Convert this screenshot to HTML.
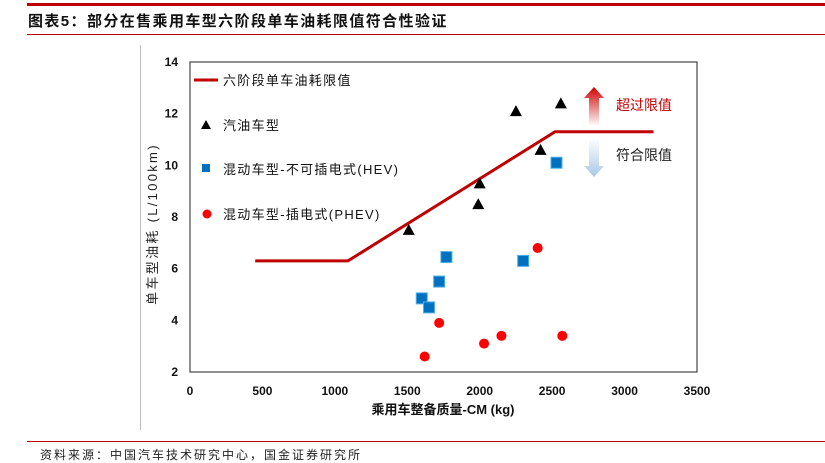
<!DOCTYPE html>
<html><head><meta charset="utf-8"><style>
body{margin:0;background:#fff;width:825px;height:452px;overflow:hidden;position:relative;font-family:"Liberation Sans","Noto Sans CJK SC",sans-serif}
.abs{position:absolute}
</style></head><body>
<div class="abs" style="left:27px;top:3px;width:798px;height:3px;background:#c00000"></div>
<div class="abs" style="left:28px;top:10px;font-size:15px;letter-spacing:1.4px;font-weight:bold;color:#111;font-family:'Liberation Sans','Noto Sans CJK SC',sans-serif">图表5：部分在售乘用车型六阶段单车油耗限值符合性验证</div>
<div class="abs" style="left:27px;top:34px;width:798px;height:1px;background:#c00000"></div>
<div class="abs" style="left:140px;top:45px;width:1px;height:385px;background:#bbb"></div>
<div class="abs" style="left:27px;top:441px;width:798px;height:1px;background:#c00000"></div>
<div class="abs" style="left:40px;top:446px;font-size:12px;letter-spacing:2px;color:#222">资料来源：中国汽车技术研究中心，国金证券研究所</div>
<svg class="abs" style="left:0;top:0" width="825" height="452">
<defs>
<linearGradient id="gu" x1="0" y1="1" x2="0" y2="0"><stop offset="0" stop-color="#fff"/><stop offset="1" stop-color="#d00000"/></linearGradient>
<linearGradient id="gd" x1="0" y1="0" x2="0" y2="1"><stop offset="0" stop-color="#fff"/><stop offset="1" stop-color="#a9c8e6"/></linearGradient>
</defs>
<g id="plot"></g>
</svg>
<script>
const xTicks=[0,500,1000,1500,2000,2500,3000,3500];
const yTicks=[2,4,6,8,10,12,14];
const limitX=[450,1090,2520,3200];
const limitY=[6.3,6.3,11.3,11.3];
const gasX=[1510,1990,2000,2250,2420,2560];
const gasY=[7.5,8.5,9.3,12.1,10.6,12.4];
const hevX=[1600,1650,1720,1770,2300,2530];
const hevY=[4.85,4.5,5.5,6.45,6.3,10.1];
const phevX=[1620,1720,2030,2150,2400,2570];
const phevY=[2.6,3.9,3.1,3.4,6.8,3.4];
const L=190,R=697,T=62,B=372;
const sx=v=>L+(v-0)/3500*(R-L);
const sy=v=>B-(v-2)/12*(B-T);
const NS="http://www.w3.org/2000/svg";
const g=document.getElementById('plot');
function mk(t,a,txt){const e=document.createElementNS(NS,t);for(const k in a)e.setAttribute(k,a[k]);if(txt!==undefined)e.textContent=txt;g.appendChild(e);return e;}
let e=mk('rect',{x:L,y:T,width:R-L,height:B-T,fill:'none',stroke:'#222','stroke-width':1});


xTicks.forEach(v=>{const t=mk('text',{x:sx(v),y:B+23,'text-anchor':'middle','font-size':12,'font-weight':'bold',fill:'#111'},v);

});
yTicks.forEach(v=>{const t=mk('text',{x:L-12,y:sy(v)+4,'text-anchor':'end','font-size':12,'font-weight':'bold',fill:'#111'},v);

});
e=mk('text',{x:443,y:414,'text-anchor':'middle','font-size':13,'font-weight':'bold',fill:'#111'},'乘用车整备质量-CM (kg)');


e=mk('text',{x:0,y:0,'text-anchor':'middle','font-size':13,'letter-spacing':2.3,fill:'#222',transform:'translate(157,224) rotate(-90)'},'单车型油耗 (L/100km)');


e=mk('polyline',{points:limitX.map((x,i)=>sx(x)+','+sy(limitY[i])).join(' '),fill:'none',stroke:'#c00000','stroke-width':3});


gasX.forEach((x,i)=>{const cx=sx(x),cy=sy(gasY[i]);const p=mk('polygon',{points:`${cx},${cy-6} ${cx-6},${cy+5} ${cx+6},${cy+5}`,fill:'#000'});

});
hevX.forEach((x,i)=>{const p=mk('rect',{x:sx(x)-5.5,y:sy(hevY[i])-5.5,width:11,height:11,fill:'#0070c0',stroke:'#4fb0e8','stroke-width':1});

});
phevX.forEach((x,i)=>{const p=mk('circle',{cx:sx(x),cy:sy(phevY[i]),r:5,fill:'#ff0000'});

});
e=mk('line',{x1:194,y1:80,x2:218,y2:80,stroke:'#c00000','stroke-width':3});


e=mk('polygon',{points:'206,120 201,129 211,129',fill:'#000'});


e=mk('rect',{x:202,y:164,width:8,height:8,fill:'#0070c0'});


e=mk('circle',{cx:207,cy:214,r:4.5,fill:'#ff0000'});


[['六阶段单车油耗限值',85],['汽油车型',130],['混动车型-不可插电式(HEV)',174],['混动车型-插电式(PHEV)',219]].forEach(a=>{const t=mk('text',{x:223,y:a[1],'font-size':13,'letter-spacing':1.3,fill:'#111'},a[0]);

});
e=mk('polygon',{points:'594,87 604,98 599,98 599,126 589,126 589,98 584,98',fill:'url(#gu)'});


e=mk('polygon',{points:'589,138 599,138 599,166 604,166 594,177 584,166 589,166',fill:'url(#gd)'});


e=mk('text',{x:616,y:110,'font-size':14,fill:'#c00000'},'超过限值');


e=mk('text',{x:616,y:160,'font-size':14,fill:'#222'},'符合限值');


</script>
</body></html>
